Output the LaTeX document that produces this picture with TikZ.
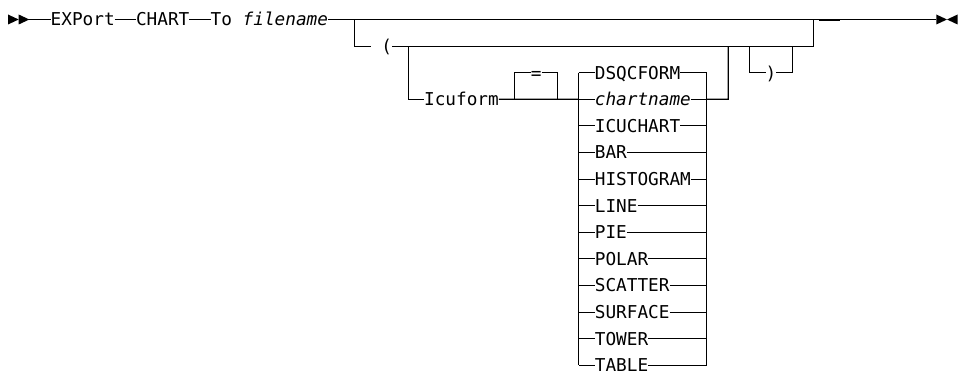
\documentclass[tikz,border=0pt]{standalone}
\usepackage{fontspec}
\setmonofont{DejaVu Sans Mono}
\begin{document}
\begin{tikzpicture}[x=1pt,y=-1pt,line width=1.1pt,
  txt/.style={inner sep=0pt,outer sep=0pt,anchor=west,text height=12.9pt,text depth=0pt,
    font=\ttfamily\fontsize{17.72}{20}\selectfont}]
\useasboundingbox (0,0) rectangle (964,371);
% start marks
\fill (8,14.5) -- (18.67,19.5) -- (8,24.5) -- cycle;
\fill (18.67,14.5) -- (29.34,19.5) -- (18.67,24.5) -- cycle;
\coordinate (start) at (29.34,19.5);
% main line
\node[txt] (export) at (50.68,19.5) {EXPort};
\node[txt] (chart) at (136.04,19.5) {CHART};
\node[txt] (to) at (210.73,19.5) {To \textit{filename}};
\coordinate (b1) at (354.8,19.5);
\coordinate (b9) at (813.6,19.5);
\coordinate (endtri) at (936.3,19.5);
\draw (start) -- (export.west);
\draw (export.east) -- (chart.west);
\draw (chart.east) -- (to.west);
\draw (to.east) -- (endtri);
\draw[line width=1.6pt] (818.9,20.1) -- (840.3,20.1);
\fill (936.3,14.5) -- (947,19.5) -- (936.3,24.5) -- cycle;
\fill (957.6,14.5) -- (947,19.5) -- (957.6,24.5) -- cycle;
% row 1
\node[txt] (lp) at (370.8,46.1) {~(};
\coordinate (b1d) at (354.8,46.1);
\coordinate (b9d) at (813.6,46.1);
\draw (b1) -- (b1d) -- (lp.west);
\draw (lp.east) -- (b9d) -- (b9);
% Icuform branch
\coordinate (b2) at (408.1,46.1);
\coordinate (b2d) at (408.1,99.3);
\node[txt] (icu) at (424.13,99.3) {Icuform};
\draw (b2) -- (b2d) -- (icu.west);
\coordinate (e1) at (514.8,99.3);
\coordinate (e1u) at (514.8,72.7);
\node[txt] (eq) at (530.83,72.7) {=};
\coordinate (e2u) at (557.5,72.7);
\coordinate (e2) at (557.5,99.3);
\draw (e1) -- (e1u) -- (eq.west);
\draw (eq.east) -- (e2u) -- (e2);
% choices
\foreach \t [count=\i from 2] in {DSQCFORM,\textit{chartname},ICUCHART,BAR,HISTOGRAM,LINE,PIE,POLAR,SCATTER,SURFACE,TOWER,TABLE}{
  \coordinate (cl\i) at (578.85,{19.5+26.6*\i});
  \coordinate (cr\i) at (706.9,{19.5+26.6*\i});
  \node[txt] (c\i) at (594.85,{19.5+26.6*\i}) {\t};
  \draw (cl\i) -- (c\i.west);
  \draw (c\i.east) -- (cr\i);
}
\draw (cl2) -- (cl13);
\draw (cr2) -- (cr13);
\draw (icu.east) -- (cl3);
\coordinate (x1) at (728.2,99.3);
\coordinate (x1u) at (728.2,46.1);
\draw (cr3) -- (x1) -- (x1u);
% closing paren
\coordinate (p1) at (749.6,46.1);
\coordinate (p1d) at (749.6,72.7);
\node[txt] (rp) at (765.6,72.7) {)};
\coordinate (p2d) at (792.3,72.7);
\coordinate (p2) at (792.3,46.1);
\draw (p1) -- (p1d) -- (rp.west);
\draw (rp.east) -- (p2d) -- (p2);
\end{tikzpicture}
\end{document}
